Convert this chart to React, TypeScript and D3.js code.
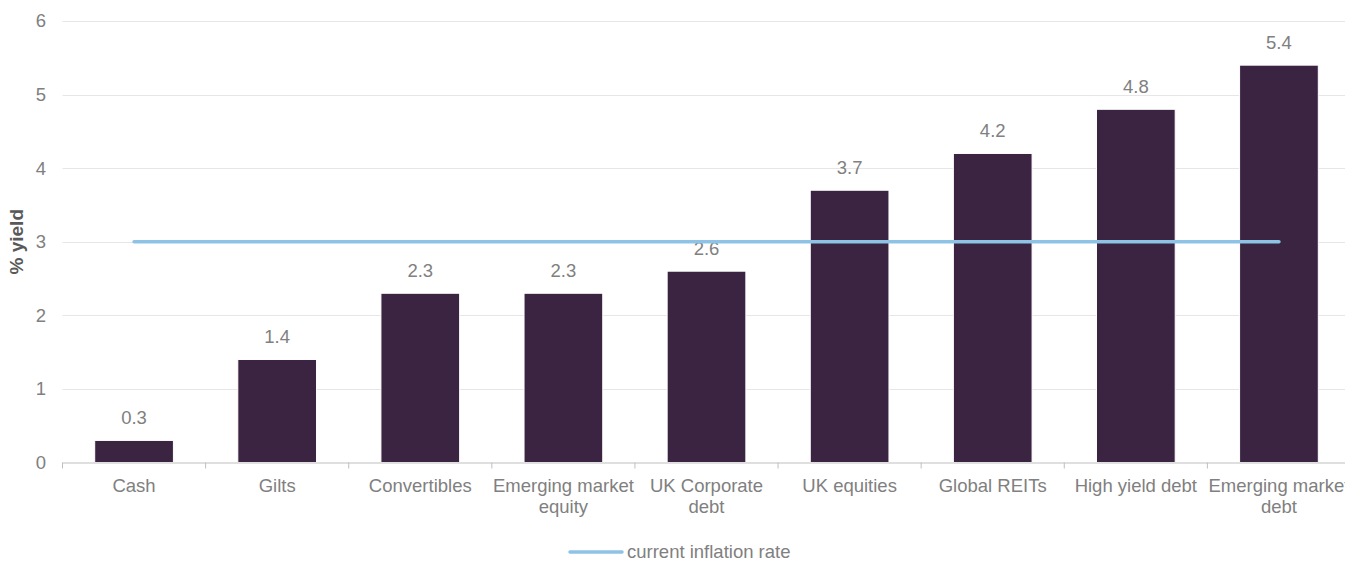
import React from "react";
import * as d3 from "d3";

const categories: string[][] = [
  ["Cash"],
  ["Gilts"],
  ["Convertibles"],
  ["Emerging market", "equity"],
  ["UK Corporate", "debt"],
  ["UK equities"],
  ["Global REITs"],
  ["High yield debt"],
  ["Emerging market", "debt"],
];
const yields: number[] = [0.3, 1.4, 2.3, 2.3, 2.6, 3.7, 4.2, 4.8, 5.4];
const inflation: number[] = [3, 3, 3, 3, 3, 3, 3, 3, 3];
const yTicks: number[] = [0, 1, 2, 3, 4, 5, 6];
const legendLabel = "current inflation rate";
const yTitle = "% yield";

const W = 1345;
const H = 561;
const left = 62.5;
const right = 1350.5;
const top = 21;
const bottom = 462.5;
const FONT = "'Liberation Sans', Arial, sans-serif";
const TXT = "#808080";
const FS = 18.5;

export default function App() {
  const keys = categories.map((_, i) => String(i));
  const x = d3.scaleBand<string>().domain(keys).range([left, right]).paddingInner(0.45).paddingOuter(0.225);
  const step = (right - left) / keys.length;
  const y = d3.scaleLinear().domain([0, 6]).range([bottom, top]);
  const line = d3
    .line<number>()
    .x((_, i) => (x(String(i)) as number) + x.bandwidth() / 2)
    .y((d) => y(d));

  return (
    <svg
      width={W}
      height={H}
      style={{ position: "absolute", left: 0, top: 0, display: "block", background: "#fff" }}
      fontFamily={FONT}
    >
      {yTicks.map((t) => (
        <g key={t}>
          {t > 0 && (
            <line x1={left} x2={right} y1={Math.round(y(t)) + 0.5} y2={Math.round(y(t)) + 0.5} stroke="#e6e6e6" strokeWidth={1} />
          )}
          <text x={46} y={y(t)} dy="0.35em" textAnchor="end" fontSize={FS} fill={TXT}>
            {t}
          </text>
        </g>
      ))}
      <text
        transform={`translate(23,${(top + bottom) / 2}) rotate(-90)`}
        textAnchor="middle"
        fontSize={19}
        fontWeight="bold"
        fill="#595959"
      >
        {yTitle}
      </text>
      {yields.map((v, i) => {
        const bx = x(String(i)) as number;
        return (
          <g key={i}>
            <rect
              x={bx}
              y={y(v)}
              width={x.bandwidth()}
              height={bottom - y(v)}
              fill="#3b2441"
              stroke="#ffffff"
              strokeWidth={1}
            />
            <text x={bx + x.bandwidth() / 2} y={y(v) - 16} textAnchor="middle" fontSize={FS} fill={TXT}>
              {v.toFixed(1)}
            </text>
          </g>
        );
      })}
      <line x1={left} x2={right} y1={bottom + 0.5} y2={bottom + 0.5} stroke="#bfbfbf" strokeWidth={1} />
      {d3.range(keys.length + 1).map((i) => (
        <line
          key={i}
          x1={left + i * step}
          x2={left + i * step}
          y1={bottom}
          y2={bottom + 6}
          stroke="#bfbfbf"
          strokeWidth={1}
        />
      ))}
      {categories.map((lines, i) => (
        <text
          key={i}
          x={(x(String(i)) as number) + x.bandwidth() / 2}
          y={492}
          textAnchor="middle"
          fontSize={FS}
          fill={TXT}
        >
          {lines.map((l, j) => (
            <tspan key={j} x={(x(String(i)) as number) + x.bandwidth() / 2} dy={j === 0 ? 0 : 21}>
              {l}
            </tspan>
          ))}
        </text>
      ))}
      <path d={line(inflation) || ""} fill="none" stroke="#8ec3e6" strokeWidth={3.5} strokeLinecap="round" />
      <line x1={570} x2={622} y1={552} y2={552} stroke="#8ec3e6" strokeWidth={3.5} strokeLinecap="round" />
      <text x={627} y={558} fontSize={FS} fill={TXT}>
        {legendLabel}
      </text>
    </svg>
  );
}
